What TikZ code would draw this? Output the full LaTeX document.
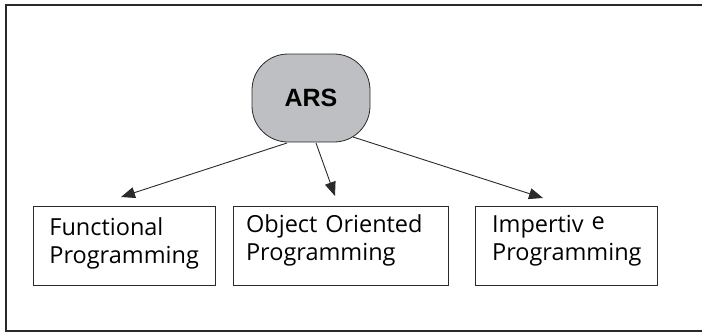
\documentclass[tikz,border=0pt]{standalone}
\usepackage{fontspec}
\setmainfont{Open Sans}
\newfontfamily\arsfont{Liberation Sans}
\usetikzlibrary{arrows.meta}
\definecolor{arsgray}{HTML}{BEBFC2}
\definecolor{linegray}{HTML}{2A2A2A}
\tikzset{
  frameline/.style={draw=linegray, line width=1.6pt},
  arsnode/.style={draw=linegray, line width=0.8pt, fill=arsgray, rounded corners=36pt,
    minimum width=118pt, minimum height=88pt, inner sep=0pt,
    font=\arsfont\bfseries\fontsize{25}{30}\selectfont},
  progbox/.style={draw=linegray, line width=0.8pt, anchor=north west, align=left,
    minimum height=79pt, inner ysep=0pt, text height=18pt,
    font=\fontsize{23.5}{28}\selectfont},
  arr/.style={draw=linegray, line width=0.9pt, -{Triangle[length=14pt,width=11pt]}}
}
\begin{document}
\begin{tikzpicture}[x=1pt,y=-1pt]
\useasboundingbox (0,0) rectangle (702,333);
% open frame
\draw[frameline] (702,5) -- (6,5) -- (6,331) -- (702,331);
% root
\node[arsnode] (ars) at (311,98) {ARS};
% boxes
\node[progbox, minimum width=181.7pt, inner xsep=15.7pt, text width=150.3pt, text depth=39pt] (fp) at (33.3,206) {Functional\\Programming};
\node[progbox, minimum width=215pt, inner xsep=12.4pt, text width=190.2pt, text depth=45pt] (oo) at (233.3,206) {Object Oriented\\Programming};
\node[progbox, minimum width=181.7pt, inner xsep=16.7pt, text width=148.3pt, text depth=45pt] (ip) at (475,206) {Impertiv \raisebox{2.5pt}{e}\\Programming};
% connector ends
\coordinate (s1) at (287,143);
\coordinate (s2) at (316,143);
\coordinate (s3) at (353,137);
\coordinate (t1) at (121,197);
\coordinate (t2) at (335,196);
\coordinate (t3) at (543,198);
\draw[arr] (s1) -- (t1);
\draw[arr] (s2) -- (t2);
\draw[arr] (s3) -- (t3);
\end{tikzpicture}
\end{document}
